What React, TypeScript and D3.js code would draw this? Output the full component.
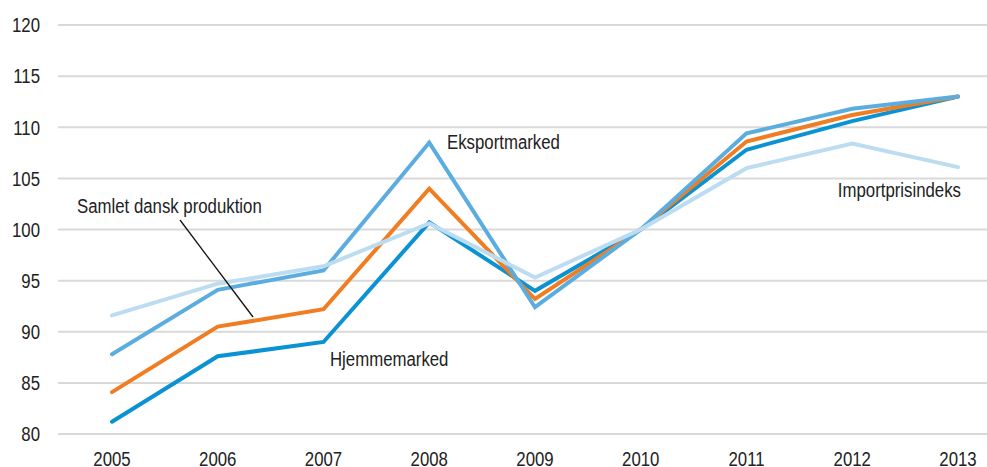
import React from "react";
import * as d3 from "d3";

const years = [2005, 2006, 2007, 2008, 2009, 2010, 2011, 2012, 2013];
const importpris = [91.6, 94.7, 96.4, 100.6, 95.3, 100, 106.0, 108.4, 106.1];
const eksport = [87.8, 94.1, 96.0, 108.5, 92.4, 100, 109.4, 111.8, 113.0];
const samlet = [84.1, 90.5, 92.2, 104.0, 93.2, 100, 108.6, 111.2, 113.0];
const hjemme = [81.2, 87.6, 89.0, 100.7, 94.0, 100, 107.8, 110.6, 113.0];
const yTicks = [80, 85, 90, 95, 100, 105, 110, 115, 120];

const W = 987;
const H = 467;
const FONT = "'Liberation Sans', Arial, sans-serif";
const FS = 21;
const SX = 0.8;

function T({ x, y, anchor = "start", children }: { x: number; y: number; anchor?: string; children: React.ReactNode }) {
  return (
    <text
      transform={`translate(${x},${y}) scale(${SX},1)`}
      dy="0.35em"
      textAnchor={anchor as any}
      fontSize={FS}
      fill="#222"
    >
      {children}
    </text>
  );
}

export default function App() {
  const x = d3.scalePoint<number>().domain(years).range([112, 958]);
  const y = d3.scaleLinear().domain([80, 120]).range([434, 25]);
  const line = (vals: number[]) =>
    d3.line<number>().x((_, i) => x(years[i])!).y((d) => y(d))(vals) || "";

  const series = [
    { vals: hjemme, color: "#0a92d2" },
    { vals: samlet, color: "#f07d22" },
    { vals: eksport, color: "#5bade0" },
    { vals: importpris, color: "#bcdcf1" },
  ];

  return (
    <svg
      width={W}
      height={H}
      style={{ position: "absolute", left: 0, top: 0 }}
      fontFamily={FONT}
    >
      <rect width={W} height={H} fill="#ffffff" />
      {yTicks.map((t) => (
        <g key={t}>
          <line x1={58} x2={987} y1={y(t)} y2={y(t)} stroke="#d9d9d9" strokeWidth={2} />
          <T x={40} y={y(t)} anchor="end">{t}</T>
        </g>
      ))}
      {years.map((yr) => (
        <T key={yr} x={x(yr)!} y={459} anchor="middle">{yr}</T>
      ))}
      {series.map((s, i) => (
        <path
          key={i}
          d={line(s.vals)}
          fill="none"
          stroke={s.color}
          strokeWidth={4}
          strokeLinejoin="miter"
          strokeLinecap="round"
        />
      ))}
      <line x1={180} y1={220} x2={253} y2={317} stroke="#111" strokeWidth={1.3} />
      <T x={77} y={206}>Samlet dansk produktion</T>
      <T x={447} y={142}>Eksportmarked</T>
      <T x={330} y={359}>Hjemmemarked</T>
      <T x={961} y={190} anchor="end">Importprisindeks</T>
    </svg>
  );
}
